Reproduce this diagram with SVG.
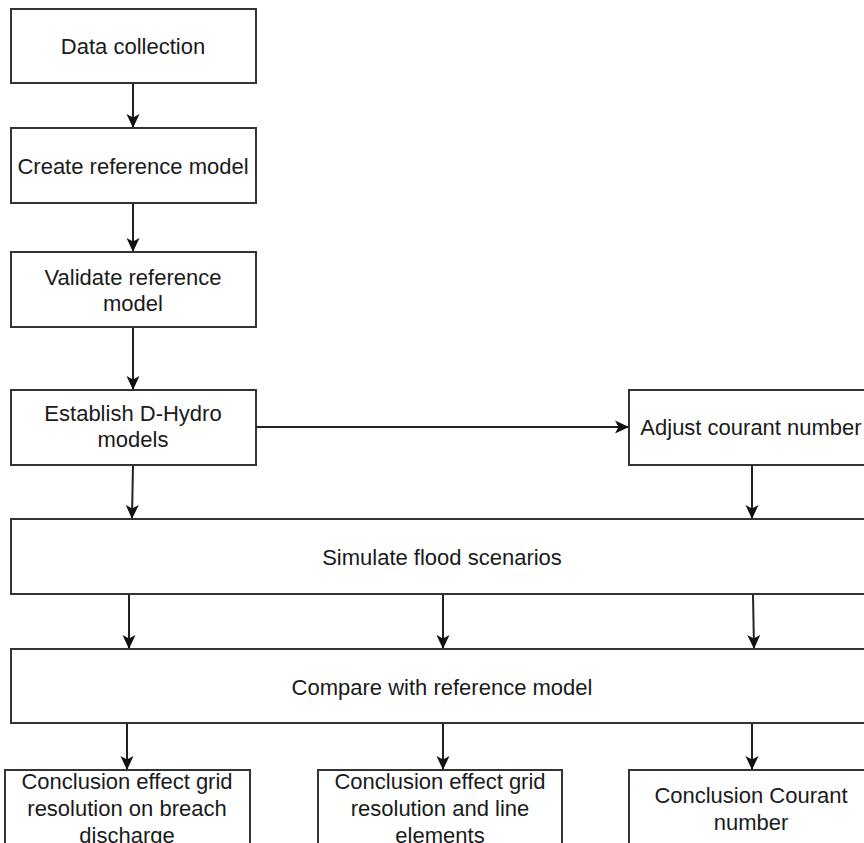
<svg xmlns="http://www.w3.org/2000/svg" width="864" height="843" viewBox="0 0 864 843">
<style>
.box{fill:#fff;stroke:#333;stroke-width:2}
.t{font-family:"Liberation Sans",Arial,sans-serif;font-size:22px;fill:#1a1a1a;text-anchor:middle}
.c{fill:none;stroke:#222;stroke-width:2}
</style>
<defs>
<marker id="ah" viewBox="0 0 14 14" refX="13" refY="7" markerWidth="14" markerHeight="14" markerUnits="userSpaceOnUse" orient="auto">
<path d="M0,0.5 L14,7 L0,13.5 L3.5,7 Z" fill="#111"/>
</marker>
</defs>
<rect width="864" height="843" fill="#fff"/>
<g id="connectors">
<path class="c" d="M133,83 V127" marker-end="url(#ah)"/>
<path class="c" d="M133,203 V251" marker-end="url(#ah)"/>
<path class="c" d="M133,327 V389" marker-end="url(#ah)"/>
<path class="c" d="M133,465 L132,518" marker-end="url(#ah)"/>
<path class="c" d="M256,427 H628" marker-end="url(#ah)"/>
<path class="c" d="M752,465 V518" marker-end="url(#ah)"/>
<path class="c" d="M129,594 V648" marker-end="url(#ah)"/>
<path class="c" d="M443,594 V648" marker-end="url(#ah)"/>
<path class="c" d="M753,594 L754,648" marker-end="url(#ah)"/>
<path class="c" d="M127,723 V769" marker-end="url(#ah)"/>
<path class="c" d="M443,723 V769" marker-end="url(#ah)"/>
<path class="c" d="M752,723 V769" marker-end="url(#ah)"/>
</g>
<g id="n1"><rect class="box" x="11" y="9" width="245" height="74"/><text class="t" x="133" y="54">Data collection</text></g>
<g id="n2"><rect class="box" x="11" y="128" width="245" height="75"/><text class="t" x="133" y="174">Create reference model</text></g>
<g id="n3"><rect class="box" x="11" y="252" width="245" height="75"/><text class="t" x="133" y="285">Validate reference</text><text class="t" x="133" y="311">model</text></g>
<g id="n4"><rect class="box" x="11" y="390" width="245" height="75"/><text class="t" x="133" y="421">Establish D-Hydro</text><text class="t" x="133" y="447">models</text></g>
<g id="n5"><rect class="box" x="629" y="390" width="250" height="75"/><text class="t" x="751" y="435">Adjust courant number</text></g>
<g id="n6"><rect class="box" x="11" y="519" width="870" height="75"/><text class="t" x="442" y="565">Simulate flood scenarios</text></g>
<g id="n7"><rect class="box" x="11" y="649" width="870" height="74"/><text class="t" x="442" y="695">Compare with reference model</text></g>
<g id="n8"><rect class="box" x="5" y="770" width="245" height="90"/><text class="t" x="127" y="789">Conclusion effect grid</text><text class="t" x="127" y="816">resolution on breach</text><text class="t" x="127" y="843">discharge</text></g>
<g id="n9"><rect class="box" x="318" y="770" width="244" height="90"/><text class="t" x="440" y="789">Conclusion effect grid</text><text class="t" x="440" y="816">resolution and line</text><text class="t" x="440" y="843">elements</text></g>
<g id="n10"><rect class="box" x="629" y="770" width="250" height="90"/><text class="t" x="751" y="803">Conclusion Courant</text><text class="t" x="751" y="830">number</text></g>
</svg>
